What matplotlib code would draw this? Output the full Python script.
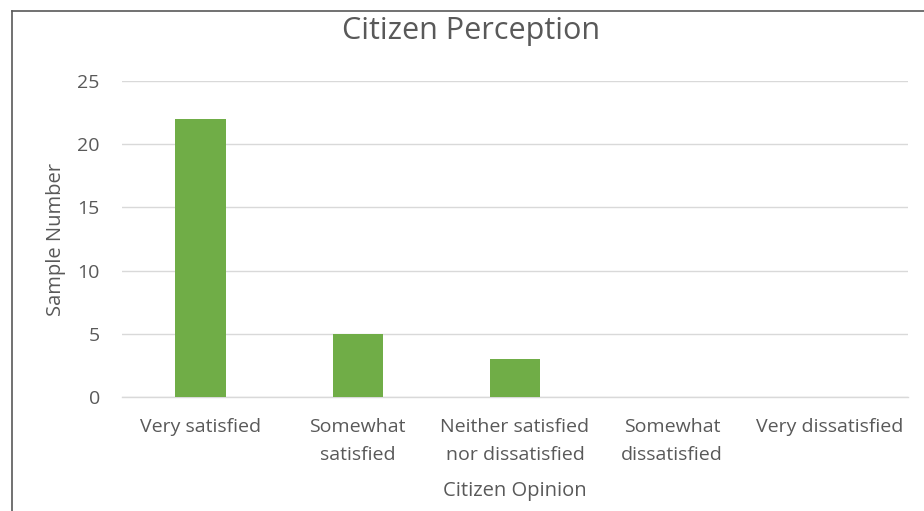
import matplotlib
matplotlib.use("Agg")
import matplotlib.pyplot as plt
from matplotlib.lines import Line2D

categories = ["Very satisfied", "Somewhat\nsatisfied", "Neither satisfied\nnor dissatisfied",
              "Somewhat\ndissatisfied", "Very dissatisfied"]
counts = [22, 5, 3, 0, 0]
yticks = [0, 5, 10, 15, 20, 25]

GREEN = "#70AD47"
TEXT = "#595959"
GRID = "#D9D9D9"

plt.rcParams['font.family'] = ['Open Sans', 'DejaVu Sans']

fig = plt.figure(figsize=(9.24, 5.11), dpi=100)
ax = fig.add_axes([122 / 924, 1 - 397 / 511, 786 / 924, 316 / 511])

x = range(len(categories))
ax.bar(x, counts, width=0.32, color=GREEN, zorder=3)

ax.set_xlim(-0.5, len(categories) - 0.5)
ax.set_ylim(0, 25)
ax.set_yticks(yticks)
ax.set_xticks(list(x))
ax.set_xticklabels(categories, color=TEXT, fontsize=14, linespacing=1.75)
ax.tick_params(axis='y', colors=TEXT, labelsize=14, length=0, pad=16)
ax.tick_params(axis='x', length=0, pad=15)

ax.grid(axis='y', color=GRID, linewidth=1, zorder=0)
for s in ['top', 'right', 'left']:
    ax.spines[s].set_visible(False)
ax.spines['bottom'].set_color(GRID)
ax.spines['bottom'].set_linewidth(1)

ax.set_xlabel("Citizen Opinion", color=TEXT, fontsize=14.5, labelpad=12)
ax.set_ylabel("Sample Number", color=TEXT, fontsize=14.5, labelpad=8)
fig.text(471 / 924, 1 - 31 / 511, "Citizen Perception", color=TEXT, fontsize=22,
         ha='center', va='center')

# chart border (left and top edges visible in the reference)
fig.add_artist(Line2D([12 / 924, 12 / 924], [0, 1 - 11 / 511], transform=fig.transFigure,
                      color="#595959", linewidth=1.2))
fig.add_artist(Line2D([12 / 924, 1], [1 - 11 / 511, 1 - 11 / 511], transform=fig.transFigure,
                      color="#595959", linewidth=1.2))

fig.savefig("out.png", dpi=100)
